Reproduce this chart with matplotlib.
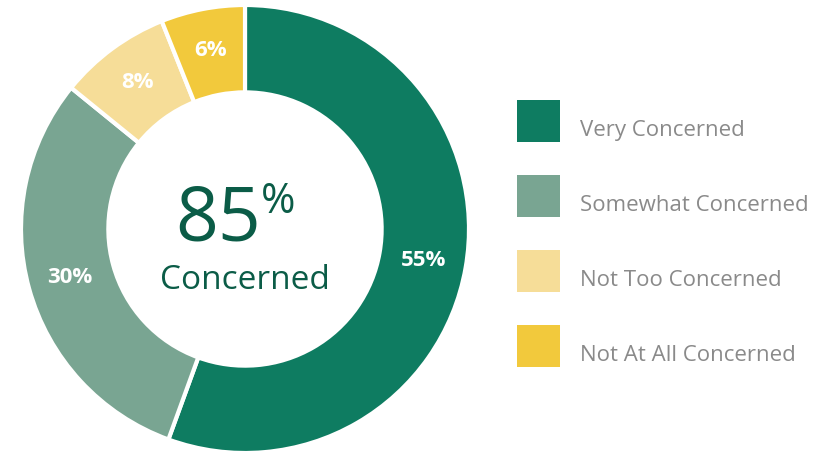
import matplotlib
matplotlib.use("Agg")
from matplotlib import pyplot as plt
from matplotlib.transforms import ScaledTranslation
import numpy as np

plt.rcParams['font.family'] = ['Open Sans', 'DejaVu Sans']

categories = ['Very Concerned', 'Somewhat Concerned', 'Not Too Concerned', 'Not At All Concerned']
values = [55, 30, 8, 6]
colors = ['#0e7c61', '#79a592', '#f6dd98', '#f2c93c']
center_value = '85'
center_label = 'Concerned'

W, H = 838, 457
fig = plt.figure(figsize=(W / 100, H / 100), dpi=100)

# donut centre (245, 229) px, outer radius 224 px
cx, cy, r = 245, 229, 224
ax = fig.add_axes([(cx - r) / W, (H - cy - r) / H, 2 * r / W, 2 * r / H])
wedges, _ = ax.pie(values, colors=colors, startangle=90, counterclock=False,
                   radius=1.0,
                   wedgeprops=dict(width=0.39, edgecolor='white', linewidth=3))
ax.set_xlim(-1, 1)
ax.set_ylim(-1, 1)
ax.set_aspect('equal')

# percentage labels in the ring
for v, w in zip(values, wedges):
    mid = np.deg2rad((w.theta1 + w.theta2) / 2)
    rr = 0.81
    ax.text(rr * np.cos(mid), rr * np.sin(mid), f'{v}%', ha='center', va='center',
            color='white', fontsize=16, fontweight='bold')

ax.text(0.07, 0.035, center_value, ha='right', va='center', color='#0b5c47', fontsize=54)
ax.text(0.07, 0.12, '%', ha='left', va='center', color='#0b5c47', fontsize=30)
ax.text(0.0, -0.23, center_label, ha='center', va='center', color='#0b5c47', fontsize=24)

leg = ax.legend(wedges, categories, loc='upper left',
                bbox_to_anchor=((517 - (cx - r)) / (2 * r), 1 - (100 - (cy - r)) / (2 * r)),
                frameon=False, fontsize=16, handlelength=1.94, handleheight=2.53,
                labelspacing=1.49, handletextpad=0.9, borderpad=0, borderaxespad=0)
# labels sit a little below the centre of their swatch
shift = ScaledTranslation(0, -8 / 100, fig.dpi_scale_trans)
for t in leg.get_texts():
    t.set_color('#8a8a8a')
    t.set_transform(t.get_transform() + shift)
for h in leg.legend_handles:
    h.set_linewidth(0)

fig.savefig('out.png', dpi=100, facecolor='white')
